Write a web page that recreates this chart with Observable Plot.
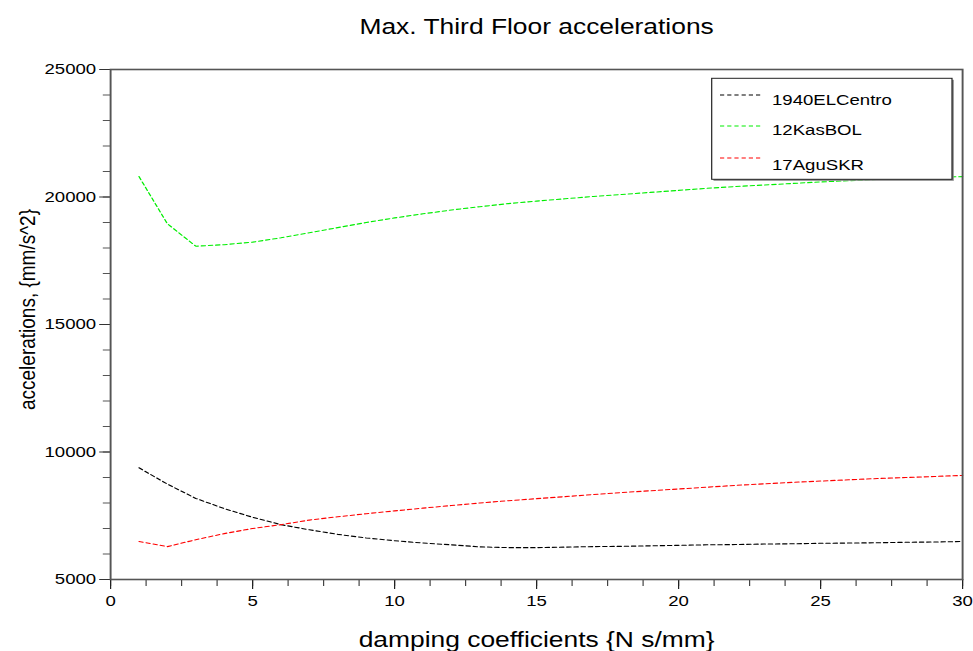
<!DOCTYPE html>
<html><head><meta charset="utf-8">
<script src="https://cdn.jsdelivr.net/npm/d3@7"></script>
<script src="https://cdn.jsdelivr.net/npm/@observablehq/plot@0.6"></script>
<style>html,body{margin:0;padding:0;background:#fff;} #chart{width:973px;height:651px;overflow:hidden;}</style>
</head><body><div id="chart"></div>
<script>
// ---- data ----
const dampingCoefficients = [1,2,3,4,5,6,7,8,9,10,11,12,13,14,15,16,17,18,19,20,21,22,23,24,25,26,27,28,29,30];
const elCentro = [9380,8740,8180,7780,7440,7150,6950,6770,6630,6520,6430,6360,6280,6250,6250,6270,6290,6300,6320,6340,6360,6370,6390,6400,6420,6430,6440,6460,6470,6490];
const kasBOL   = [20800,18950,18070,18130,18230,18400,18600,18800,19000,19180,19340,19490,19620,19740,19840,19930,20020,20100,20180,20260,20340,20410,20470,20530,20590,20640,20690,20730,20770,20800];
const aguSKR   = [6490,6290,6560,6800,7000,7150,7330,7460,7580,7690,7800,7900,8000,8090,8170,8250,8330,8410,8480,8550,8620,8690,8750,8810,8860,8910,8960,9000,9040,9080];
const seriesNames  = ["1940ELCentro","12KasBOL","17AguSKR"];
const seriesColors = ["#000000","#00ee00","#ff0000"];
const xMajorTicks = [0,5,10,15,20,25,30];
const yMajorTicks = [5000,10000,15000,20000,25000];
const xMinorTicks = d3.range(0, 30.001, 1.25);
const yMinorTicks = d3.range(5000, 25001, 1000);
const titleText = "Max. Third Floor accelerations";
const xLabel = "damping coefficients {N s/mm}";
const yLabel = "accelerations, {mm/s^2}";

const rows = [];
[elCentro, kasBOL, aguSKR].forEach((vals, k) =>
  vals.forEach((v, i) => rows.push({series: seriesNames[k], x: dampingCoefficients[i], y: v})));

// ---- layout (drawn narrow, shown horizontally stretched like the reference) ----
const SCREEN_W = 973, H = 651, STRETCH = 1.2;
const W = SCREEN_W / STRETCH;
const FONT = "'Liberation Sans', Arial, Helvetica, sans-serif";
const DASH = "3.5,2.5";

const chart = Plot.plot({
  width: W, height: H,
  marginLeft: 110 / STRETCH, marginRight: W - 962 / STRETCH, marginTop: 69, marginBottom: 72,
  style: {fontFamily: FONT, fontSize: "15.5px", color: "#000", background: "#fff", overflow: "visible"},
  x: {domain: [0, 30]},
  y: {domain: [5000, 25000]},
  color: {domain: seriesNames, range: seriesColors},
  marks: [
    Plot.axisX({ticks: xMinorTicks, tickSize: 7, text: null, label: null, stroke: "#444"}),
    Plot.axisX({ticks: xMajorTicks, tickSize: 10, tickPadding: 5, label: null, stroke: "#222", fontSize: 15.5, tickFormat: d3.format("d")}),
    Plot.axisY({ticks: yMinorTicks, tickSize: 6, text: null, label: null, stroke: "#555"}),
    Plot.axisY({ticks: yMajorTicks, tickSize: 9, tickPadding: 3, label: null, stroke: "#333", fontSize: 15.5, tickFormat: d3.format("d")}),
    Plot.line(rows, {x: "x", y: "y", z: "series", stroke: "series", strokeWidth: 1.1, strokeDasharray: DASH}),
    Plot.frame({stroke: "#555", strokeWidth: 1.6}),
    Plot.text([titleText], {text: d => d, frameAnchor: "top", dy: -42.7, fontSize: 22, lineAnchor: "middle", textAnchor: "middle"}),
    Plot.text([xLabel], {text: d => d, frameAnchor: "bottom", dy: 60, fontSize: 22, lineAnchor: "middle", textAnchor: "middle"}),
    Plot.text([yLabel], {text: d => d, frameAnchor: "left", dx: 22.5 - 110 / STRETCH, dy: -15, rotate: -90, fontSize: 19, lineAnchor: "middle", textAnchor: "middle"})
  ]
});

// ---- legend box inside the plot ----
const svg = d3.select(chart);
const lg = svg.append("g").attr("font-family", FONT).attr("font-size", 15.5).attr("text-anchor", "start");
const bx = 711.7 / STRETCH, bx2 = 952 / STRETCH, by = 78.3, by2 = 179.3;
lg.append("rect").attr("x", bx + 1.5).attr("y", by + 1.5).attr("width", bx2 - bx).attr("height", by2 - by).attr("fill", "#888");
lg.append("rect").attr("x", bx).attr("y", by).attr("width", bx2 - bx).attr("height", by2 - by).attr("fill", "#fff").attr("stroke", "#222").attr("stroke-width", 1);
const lineY = [95, 126, 158], textY = [105, 135, 170];
seriesNames.forEach((name, i) => {
  lg.append("line").attr("x1", 720 / STRETCH).attr("x2", 762 / STRETCH).attr("y1", lineY[i]).attr("y2", lineY[i])
    .attr("stroke", seriesColors[i]).attr("stroke-width", 1).attr("stroke-dasharray", DASH);
  lg.append("text").attr("x", 772 / STRETCH).attr("y", textY[i]).attr("fill", "#000").attr("text-anchor", "start").text(name);
});

chart.setAttribute("width", SCREEN_W);
chart.setAttribute("height", H);
chart.setAttribute("preserveAspectRatio", "none");
chart.style.width = SCREEN_W + "px";
chart.style.height = H + "px";
chart.style.maxWidth = "none";
document.getElementById("chart").appendChild(chart);
</script>
</body></html>
